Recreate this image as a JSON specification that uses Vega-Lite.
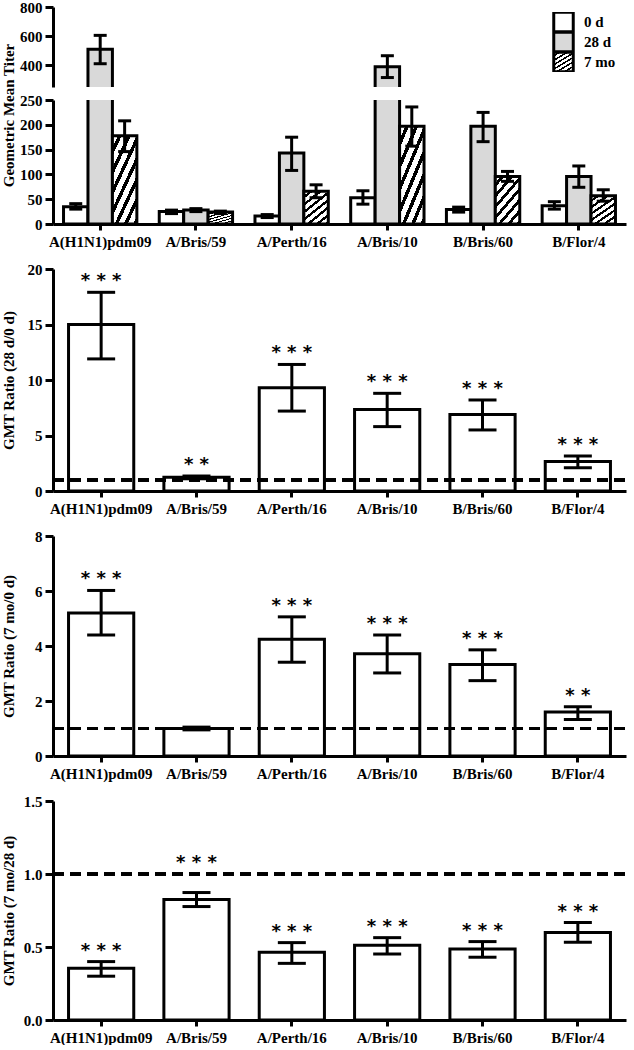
{
  "$schema": "https://vega.github.io/schema/vega-lite/v6.json",
  "padding": {"left": 0, "top": 0, "right": 4, "bottom": 0},
  "background": "white",
  "config": {
    "view": {"stroke": null},
    "font": "Liberation Serif",
    "axis": {"domainColor": "black", "domainWidth": 3, "tickColor": "black", "tickWidth": 3, "grid": false, "labelOverlap": false,
      "labelFont": "Liberation Serif", "labelFontWeight": "bold", "labelFontSize": 15, "labelColor": "black",
      "titleFont": "Liberation Serif", "titleFontWeight": "bold", "titleFontSize": 15, "titleColor": "black"},
    "axisX": {"tickSize": 6, "labelPadding": 4, "labelAngle": 0},
    "axisY": {"tickSize": 8, "labelPadding": 3, "titleX": -37},
    "bar": {"stroke": "black", "strokeWidth": 3}
  },
  "datasets": {
    "titer": [
      {"strain": "A(H1N1)pdm09", "time": "0 d", "gmt": 35, "lo": 30, "hi": 41},
      {"strain": "A(H1N1)pdm09", "time": "28 d", "gmt": 510, "lo": 410, "hi": 605},
      {"strain": "A(H1N1)pdm09", "time": "7 mo", "gmt": 178, "lo": 146, "hi": 208},
      {"strain": "A/Bris/59", "time": "0 d", "gmt": 25, "lo": 21, "hi": 28},
      {"strain": "A/Bris/59", "time": "28 d", "gmt": 28, "lo": 25, "hi": 31},
      {"strain": "A/Bris/59", "time": "7 mo", "gmt": 24, "lo": 21, "hi": 26},
      {"strain": "A/Perth/16", "time": "0 d", "gmt": 16, "lo": 13, "hi": 19},
      {"strain": "A/Perth/16", "time": "28 d", "gmt": 143, "lo": 108, "hi": 175},
      {"strain": "A/Perth/16", "time": "7 mo", "gmt": 66, "lo": 53, "hi": 79},
      {"strain": "A/Bris/10", "time": "0 d", "gmt": 53, "lo": 40, "hi": 67},
      {"strain": "A/Bris/10", "time": "28 d", "gmt": 390, "lo": 315, "hi": 465},
      {"strain": "A/Bris/10", "time": "7 mo", "gmt": 197, "lo": 157, "hi": 236},
      {"strain": "B/Bris/60", "time": "0 d", "gmt": 29, "lo": 24, "hi": 34},
      {"strain": "B/Bris/60", "time": "28 d", "gmt": 197, "lo": 166, "hi": 225},
      {"strain": "B/Bris/60", "time": "7 mo", "gmt": 96, "lo": 86, "hi": 106},
      {"strain": "B/Flor/4", "time": "0 d", "gmt": 37, "lo": 30, "hi": 45},
      {"strain": "B/Flor/4", "time": "28 d", "gmt": 96, "lo": 74, "hi": 117},
      {"strain": "B/Flor/4", "time": "7 mo", "gmt": 57, "lo": 46, "hi": 69}
    ],
    "ratio": [
      {"panel": "28d/0d", "strain": "A(H1N1)pdm09", "ratio": 15.0, "lo": 11.9, "hi": 17.9, "sig": "* * *"},
      {"panel": "28d/0d", "strain": "A/Bris/59", "ratio": 1.25, "lo": 1.1, "hi": 1.35, "sig": "* *"},
      {"panel": "28d/0d", "strain": "A/Perth/16", "ratio": 9.3, "lo": 7.2, "hi": 11.4, "sig": "* * *"},
      {"panel": "28d/0d", "strain": "A/Bris/10", "ratio": 7.35, "lo": 5.8, "hi": 8.8, "sig": "* * *"},
      {"panel": "28d/0d", "strain": "B/Bris/60", "ratio": 6.9, "lo": 5.5, "hi": 8.2, "sig": "* * *"},
      {"panel": "28d/0d", "strain": "B/Flor/4", "ratio": 2.65, "lo": 2.1, "hi": 3.15, "sig": "* * *"},
      {"panel": "7mo/0d", "strain": "A(H1N1)pdm09", "ratio": 5.2, "lo": 4.4, "hi": 6.02, "sig": "* * *"},
      {"panel": "7mo/0d", "strain": "A/Bris/59", "ratio": 1.0, "lo": 0.95, "hi": 1.05, "sig": ""},
      {"panel": "7mo/0d", "strain": "A/Perth/16", "ratio": 4.25, "lo": 3.41, "hi": 5.06, "sig": "* * *"},
      {"panel": "7mo/0d", "strain": "A/Bris/10", "ratio": 3.72, "lo": 3.02, "hi": 4.4, "sig": "* * *"},
      {"panel": "7mo/0d", "strain": "B/Bris/60", "ratio": 3.33, "lo": 2.74, "hi": 3.86, "sig": "* * *"},
      {"panel": "7mo/0d", "strain": "B/Flor/4", "ratio": 1.6, "lo": 1.33, "hi": 1.79, "sig": "* *"},
      {"panel": "7mo/28d", "strain": "A(H1N1)pdm09", "ratio": 0.354, "lo": 0.30, "hi": 0.40, "sig": "* * *"},
      {"panel": "7mo/28d", "strain": "A/Bris/59", "ratio": 0.825, "lo": 0.777, "hi": 0.873, "sig": "* * *"},
      {"panel": "7mo/28d", "strain": "A/Perth/16", "ratio": 0.464, "lo": 0.388, "hi": 0.53, "sig": "* * *"},
      {"panel": "7mo/28d", "strain": "A/Bris/10", "ratio": 0.512, "lo": 0.452, "hi": 0.564, "sig": "* * *"},
      {"panel": "7mo/28d", "strain": "B/Bris/60", "ratio": 0.486, "lo": 0.43, "hi": 0.537, "sig": "* * *"},
      {"panel": "7mo/28d", "strain": "B/Flor/4", "ratio": 0.60, "lo": 0.532, "hi": 0.667, "sig": "* * *"}
    ]
  },
  "spacing": 13,
  "resolve": {"scale": {"fill": "independent", "xOffset": "independent"}},
  "vconcat": [
    {
      "spacing": 13,
      "bounds": "flush",
      "resolve": {"scale": {"fill": "independent", "xOffset": "independent"}, "legend": {"fill": "independent"}},
      "vconcat": [
        {
          "width": 573, "height": 80,
          "data": {"name": "titer"},
          "encoding": {
            "x": {"field": "strain", "type": "nominal", "sort": ["A(H1N1)pdm09", "A/Bris/59", "A/Perth/16", "A/Bris/10", "B/Bris/60", "B/Flor/4"], "scale": {"paddingInner": 0.234, "paddingOuter": 0.11}, "axis": null},
            "xOffset": {"field": "time", "type": "nominal", "sort": ["0 d", "28 d", "7 mo"], "scale": {"paddingInner": 0, "paddingOuter": 0}}
          },
          "layer": [
            {
              "mark": {"type": "bar", "clip": true},
              "encoding": {
                "y": {"field": "gmt", "type": "quantitative", "scale": {"domain": [250, 800], "nice": false, "zero": false}, "axis": {"values": [400, 600, 800], "tickCount": 3, "labelOverlap": false, "title": null}},
                "fill": {"field": "time", "type": "nominal", "sort": ["0 d", "28 d", "7 mo"],
                  "scale": {"domain": ["0 d", "28 d", "7 mo"], "range": ["white", "#d9d9d9", {"expr": "{gradient:'linear',x1:0,y1:0,x2:0.706,y2:1.176,stops:[{offset:0,color:'white'},{offset:0.0857,color:'white'},{offset:0.0857,color:'black'},{offset:0.1429,color:'black'},{offset:0.1429,color:'white'},{offset:0.2286,color:'white'},{offset:0.2286,color:'black'},{offset:0.2857,color:'black'},{offset:0.2857,color:'white'},{offset:0.3714,color:'white'},{offset:0.3714,color:'black'},{offset:0.4286,color:'black'},{offset:0.4286,color:'white'},{offset:0.5143,color:'white'},{offset:0.5143,color:'black'},{offset:0.5714,color:'black'},{offset:0.5714,color:'white'},{offset:0.6571,color:'white'},{offset:0.6571,color:'black'},{offset:0.7143,color:'black'},{offset:0.7143,color:'white'},{offset:0.8,color:'white'},{offset:0.8,color:'black'},{offset:0.8571,color:'black'},{offset:0.8571,color:'white'},{offset:0.9429,color:'white'},{offset:0.9429,color:'black'},{offset:1,color:'black'}]}"}]},
                  "legend": {"orient": "none", "legendX": 499, "legendY": 5, "title": null, "symbolType": "square", "symbolSize": 380, "symbolStrokeColor": "black", "symbolStrokeWidth": 3, "symbolOpacity": 1, "labelFont": "Liberation Serif", "labelFontWeight": "bold", "labelFontSize": 15, "labelColor": "black", "labelOffset": 9, "clipHeight": 20, "rowPadding": 0}}
              }
            },
            {"mark": {"type": "rule", "clip": true, "strokeWidth": 3, "color": "black"}, "encoding": {"y": {"field": "lo", "type": "quantitative", "axis": {"values": [400, 600, 800], "tickCount": 3, "labelOverlap": false, "title": null}}, "y2": {"field": "hi"}}},
            {"mark": {"type": "tick", "clip": true, "size": 13, "thickness": 3, "color": "black", "opacity": 1}, "encoding": {"y": {"field": "lo", "type": "quantitative", "axis": {"values": [400, 600, 800], "tickCount": 3, "labelOverlap": false, "title": null}}}},
            {"mark": {"type": "tick", "clip": true, "size": 13, "thickness": 3, "color": "black", "opacity": 1}, "encoding": {"y": {"field": "hi", "type": "quantitative", "axis": {"values": [400, 600, 800], "tickCount": 3, "labelOverlap": false, "title": null}}}}
          ]
        },
        {
          "width": 573, "height": 124,
          "data": {"name": "titer"},
          "encoding": {
            "x": {"field": "strain", "type": "nominal", "sort": ["A(H1N1)pdm09", "A/Bris/59", "A/Perth/16", "A/Bris/10", "B/Bris/60", "B/Flor/4"], "scale": {"paddingInner": 0.234, "paddingOuter": 0.11}, "axis": {"title": null}},
            "xOffset": {"field": "time", "type": "nominal", "sort": ["0 d", "28 d", "7 mo"], "scale": {"paddingInner": 0, "paddingOuter": 0}}
          },
          "layer": [
            {
              "mark": {"type": "bar", "clip": true},
              "encoding": {
                "y": {"field": "gmt", "type": "quantitative", "scale": {"domain": [0, 250], "nice": false}, "axis": {"values": [0, 50, 100, 150, 200, 250], "tickCount": 6, "labelOverlap": false, "title": "Geometric Mean Titer", "titleY": 15}},
                "fill": {"field": "time", "type": "nominal", "sort": ["0 d", "28 d", "7 mo"],
                  "scale": {"domain": ["0 d", "28 d", "7 mo"], "range": ["white", "#d9d9d9", {"expr": "{gradient:'linear',x1:0,y1:0,x2:0.706,y2:1.176,stops:[{offset:0,color:'white'},{offset:0.0857,color:'white'},{offset:0.0857,color:'black'},{offset:0.1429,color:'black'},{offset:0.1429,color:'white'},{offset:0.2286,color:'white'},{offset:0.2286,color:'black'},{offset:0.2857,color:'black'},{offset:0.2857,color:'white'},{offset:0.3714,color:'white'},{offset:0.3714,color:'black'},{offset:0.4286,color:'black'},{offset:0.4286,color:'white'},{offset:0.5143,color:'white'},{offset:0.5143,color:'black'},{offset:0.5714,color:'black'},{offset:0.5714,color:'white'},{offset:0.6571,color:'white'},{offset:0.6571,color:'black'},{offset:0.7143,color:'black'},{offset:0.7143,color:'white'},{offset:0.8,color:'white'},{offset:0.8,color:'black'},{offset:0.8571,color:'black'},{offset:0.8571,color:'white'},{offset:0.9429,color:'white'},{offset:0.9429,color:'black'},{offset:1,color:'black'}]}"}]},
                  "legend": null}
              }
            },
            {"mark": {"type": "rule", "clip": true, "strokeWidth": 3, "color": "black"}, "encoding": {"y": {"field": "lo", "type": "quantitative", "axis": {"values": [0, 50, 100, 150, 200, 250], "tickCount": 6, "labelOverlap": false, "title": "Geometric Mean Titer", "titleY": 15}}, "y2": {"field": "hi"}}},
            {"mark": {"type": "tick", "clip": true, "size": 13, "thickness": 3, "color": "black", "opacity": 1}, "encoding": {"y": {"field": "lo", "type": "quantitative", "axis": {"values": [0, 50, 100, 150, 200, 250], "tickCount": 6, "labelOverlap": false, "title": "Geometric Mean Titer", "titleY": 15}}}},
            {"mark": {"type": "tick", "clip": true, "size": 13, "thickness": 3, "color": "black", "opacity": 1}, "encoding": {"y": {"field": "hi", "type": "quantitative", "axis": {"values": [0, 50, 100, 150, 200, 250], "tickCount": 6, "labelOverlap": false, "title": "Geometric Mean Titer", "titleY": 15}}}}
          ]
        }
      ]
    },
    {
      "width": 573, "height": 222,
      "data": {"name": "ratio"},
      "transform": [{"filter": "datum.panel === '28d/0d'"}],
      "encoding": {
        "x": {"field": "strain", "type": "nominal", "sort": ["A(H1N1)pdm09", "A/Bris/59", "A/Perth/16", "A/Bris/10", "B/Bris/60", "B/Flor/4"], "scale": {"paddingInner": 0.316, "paddingOuter": 0.163}, "axis": {"title": null}}
      },
      "layer": [
        {"mark": {"type": "bar", "fill": "white"}, "encoding": {"y": {"field": "ratio", "type": "quantitative", "scale": {"domain": [0, 20], "nice": false}, "axis": {"values": [0, 5, 10, 15, 20], "labelOverlap": false, "title": "GMT Ratio (28 d/0 d)"}}}},
        {"mark": {"type": "rule", "strokeWidth": 3, "color": "black"}, "encoding": {"y": {"field": "lo", "type": "quantitative"}, "y2": {"field": "hi"}}},
        {"mark": {"type": "tick", "size": 28, "thickness": 3, "color": "black", "opacity": 1}, "encoding": {"y": {"field": "lo", "type": "quantitative"}}},
        {"mark": {"type": "tick", "size": 28, "thickness": 3, "color": "black", "opacity": 1}, "encoding": {"y": {"field": "hi", "type": "quantitative"}}},
        {"mark": {"type": "rule", "strokeWidth": 3, "strokeDash": [11, 6], "color": "black"}, "encoding": {"y": {"datum": 1}, "x": {"value": 0}, "x2": {"value": 573}}},
        {"mark": {"type": "text", "font": "DejaVu Sans", "fontWeight": "bold", "fontSize": 18, "dy": -6, "baseline": "alphabetic", "color": "black"}, "encoding": {"y": {"field": "hi", "type": "quantitative"}, "text": {"field": "sig"}}}
      ]
    },
    {
      "width": 573, "height": 220,
      "data": {"name": "ratio"},
      "transform": [{"filter": "datum.panel === '7mo/0d'"}],
      "encoding": {
        "x": {"field": "strain", "type": "nominal", "sort": ["A(H1N1)pdm09", "A/Bris/59", "A/Perth/16", "A/Bris/10", "B/Bris/60", "B/Flor/4"], "scale": {"paddingInner": 0.316, "paddingOuter": 0.163}, "axis": {"title": null}}
      },
      "layer": [
        {"mark": {"type": "bar", "fill": "white"}, "encoding": {"y": {"field": "ratio", "type": "quantitative", "scale": {"domain": [0, 8], "nice": false}, "axis": {"values": [0, 2, 4, 6, 8], "labelOverlap": false, "title": "GMT Ratio (7 mo/0 d)"}}}},
        {"mark": {"type": "rule", "strokeWidth": 3, "color": "black"}, "encoding": {"y": {"field": "lo", "type": "quantitative"}, "y2": {"field": "hi"}}},
        {"mark": {"type": "tick", "size": 28, "thickness": 3, "color": "black", "opacity": 1}, "encoding": {"y": {"field": "lo", "type": "quantitative"}}},
        {"mark": {"type": "tick", "size": 28, "thickness": 3, "color": "black", "opacity": 1}, "encoding": {"y": {"field": "hi", "type": "quantitative"}}},
        {"mark": {"type": "rule", "strokeWidth": 3, "strokeDash": [11, 6], "color": "black"}, "encoding": {"y": {"datum": 1}, "x": {"value": 0}, "x2": {"value": 573}}},
        {"mark": {"type": "text", "font": "DejaVu Sans", "fontWeight": "bold", "fontSize": 18, "dy": -6, "baseline": "alphabetic", "color": "black"}, "encoding": {"y": {"field": "hi", "type": "quantitative"}, "text": {"field": "sig"}}}
      ]
    },
    {
      "width": 573, "height": 219,
      "data": {"name": "ratio"},
      "transform": [{"filter": "datum.panel === '7mo/28d'"}],
      "encoding": {
        "x": {"field": "strain", "type": "nominal", "sort": ["A(H1N1)pdm09", "A/Bris/59", "A/Perth/16", "A/Bris/10", "B/Bris/60", "B/Flor/4"], "scale": {"paddingInner": 0.316, "paddingOuter": 0.163}, "axis": {"title": null}}
      },
      "layer": [
        {"mark": {"type": "bar", "fill": "white"}, "encoding": {"y": {"field": "ratio", "type": "quantitative", "scale": {"domain": [0, 1.5], "nice": false}, "axis": {"values": [0, 0.5, 1, 1.5], "format": ".1f", "labelOverlap": false, "title": "GMT Ratio (7 mo/28 d)"}}}},
        {"mark": {"type": "rule", "strokeWidth": 3, "color": "black"}, "encoding": {"y": {"field": "lo", "type": "quantitative"}, "y2": {"field": "hi"}}},
        {"mark": {"type": "tick", "size": 28, "thickness": 3, "color": "black", "opacity": 1}, "encoding": {"y": {"field": "lo", "type": "quantitative"}}},
        {"mark": {"type": "tick", "size": 28, "thickness": 3, "color": "black", "opacity": 1}, "encoding": {"y": {"field": "hi", "type": "quantitative"}}},
        {"mark": {"type": "rule", "strokeWidth": 3, "strokeDash": [11, 6], "color": "black"}, "encoding": {"y": {"datum": 1}, "x": {"value": 0}, "x2": {"value": 573}}},
        {"transform": [{"filter": "datum.strain !== 'A/Bris/59'"}], "mark": {"type": "text", "font": "DejaVu Sans", "fontWeight": "bold", "fontSize": 18, "dy": -6, "baseline": "alphabetic", "color": "black"}, "encoding": {"y": {"field": "hi", "type": "quantitative"}, "text": {"field": "sig"}}},
        {"transform": [{"filter": "datum.strain === 'A/Bris/59'"}], "mark": {"type": "text", "font": "DejaVu Sans", "fontWeight": "bold", "fontSize": 18, "dy": -6, "baseline": "alphabetic", "color": "black"}, "encoding": {"y": {"datum": 1}, "text": {"field": "sig"}}}
      ]
    }
  ]
}
